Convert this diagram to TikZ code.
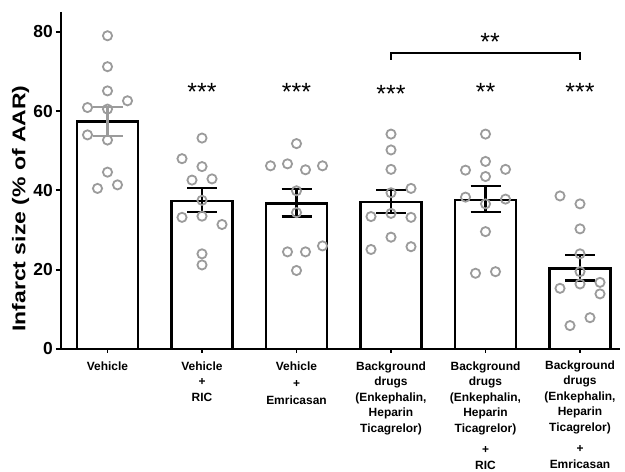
\documentclass[tikz,border=0pt]{standalone}
\usepackage{fontspec}
\setmainfont{Liberation Sans}
\definecolor{ptgray}{RGB}{155,155,155}
\newcommand{\ds}{3.965}

\begin{document}
\begin{tikzpicture}[x=1bp, y=1bp]
\tikzstyle{bar} = [draw=black, line width=2.2bp, fill=white]
\tikzstyle{err} = [draw=black, line width=2.2bp]
\tikzstyle{axis} = [draw=black, line width=1.8bp]
\tikzstyle{pt} = [draw=ptgray, line width=1.8bp]
\tikzstyle{lab} = [align=center, anchor=north, inner sep=0pt, font=\fontsize{12}{15.6}\selectfont\bfseries]
\tikzstyle{tlab} = [anchor=east, inner sep=0pt, font=\fontsize{17.5}{17.5}\selectfont\bfseries]
\tikzstyle{sig} = [anchor=base, inner sep=0pt, font=\fontsize{25}{25}\selectfont]
\useasboundingbox (-61,-123) rectangle (564,349);
%% bars and error bars
\foreach \cx/\m/\lo/\hi/\c in {46.5/57.4/53.8/61.0/ptgray, 141/37.3/34.6/40.6/black,
  235.5/36.7/33.4/40.3/black, 330/37.0/34.2/40.1/black,
  424.5/37.6/34.6/41.1/black, 519/20.3/17.3/23.7/black}{
  \draw[bar] ({\cx-30.5},0) rectangle ({\cx+30.5},{\m*\ds});
  \draw[err,draw=\c] (\cx,{\lo*\ds}) -- (\cx,{\hi*\ds})
    ({\cx-15},{\lo*\ds}) -- ++(30,0) ({\cx-15},{\hi*\ds}) -- ++(30,0);
}
%% single animals
\foreach \cx/\pts in {
  46.5/{0/79.0,0/71.2,0/65.1,-20/60.9,0/60.5,20/62.6,-20/54.0,0/52.7,0/44.6,-10/40.5,10/41.4},
  141/{0/53.2,-20/48.0,0/46.0,-10/42.6,10/42.9,0/37.5,-20/33.2,0/33.5,20/31.4,0/24.0,0/21.2},
  235.5/{0/51.8,-26/46.2,-9/46.7,9/45.2,26/46.2,0/39.9,0/34.4,-9/24.5,9/24.5,26/26.0,0/19.8},
  330/{0/54.2,0/50.2,0/45.3,20/40.5,0/39.4,-20/33.4,0/34.2,20/33.2,0/28.2,-20/25.1,20/25.8},
  424.5/{0/54.2,0/47.3,-20/45.1,20/45.3,0/43.5,-20/38.3,20/37.8,0/36.6,0/29.6,-10/19.1,10/19.5},
  519/{-20/38.6,0/36.6,0/30.3,0/24.0,0/19.5,0/16.4,20/16.8,20/13.9,-20/15.3,10/7.9,-10/5.9}}{
  \foreach \dx/\v in \pts
    \draw[pt] ({\cx+\dx},{\v*\ds}) circle (4.6bp);
}
%% axes
\draw[axis] (0,337) -- (0,0) -- (559,0);
\foreach \v in {0,20,...,80}{
  \draw[axis] (-5,{\v*\ds}) -- (0,{\v*\ds});
  \node[tlab] (tick\v) at (-8,{\v*\ds}) {\v};
}
\foreach \cx in {46.5,141,235.5,330,424.5,519}
  \draw[axis] (\cx,0) -- (\cx,-4.5);
\node[rotate=90, font=\fontsize{18.5}{18.5}\selectfont\bfseries] (ylab) at (-40.5,140.5)
  {\scalebox{1.245}[1]{Infarct size (\% of AAR)}};
%% group labels
\node[lab] (g1) at (46.5,-12.5) {Vehicle};
\node[lab] (g2) at (141,-12.5) {Vehicle\\+\\RIC};
\node[lab] (g3) at (235.5,-12.5) {Vehicle\\[2bp]+\\[1bp]Emricasan};
\node[lab] (g4) at (330,-12.5) {Background\\drugs\\(Enkephalin,\\Heparin\\Ticagrelor)};
\node[lab] (g5) at (424.5,-12.5) {Background\\drugs\\(Enkephalin,\\Heparin\\Ticagrelor)\\[5bp]+\\[1bp]RIC};
\node[lab] (g6) at (519,-11.5) {Background\\drugs\\(Enkephalin,\\Heparin\\Ticagrelor)\\[5bp]+\\[1bp]Emricasan};
%% significance
\node[sig] (s2) at (141,248.3) {***};
\node[sig] (s3) at (235.5,248.3) {***};
\node[sig] (s4) at (330,246.3) {***};
\node[sig] (s5) at (424.5,248.3) {**};
\node[sig] (s6) at (519,248.3) {***};
\coordinate (brL) at (330,289);
\coordinate (brR) at (519,289);
\draw[err] (brL) -- ++(0,7.3) -| (brR);
\node[sig] (sbr) at (429,298.6) {**};
\end{tikzpicture}
\end{document}
